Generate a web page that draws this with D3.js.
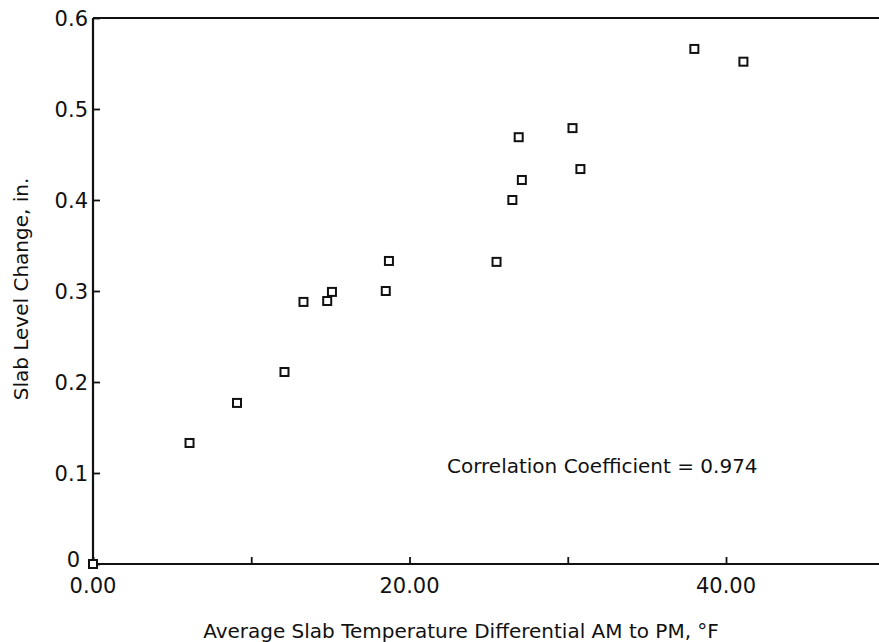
<!DOCTYPE html>
<html>
<head>
<meta charset="utf-8">
<script src="https://cdn.jsdelivr.net/npm/d3@7"></script>
<style>
  body { margin: 0; background: #fff; }
  svg text { font-family: "DejaVu Sans", sans-serif; fill: #111; }
</style>
</head>
<body>
<svg id="chart" width="879" height="642"></svg>
<script>
// temperature differential (F) vs slab level change (in.)
const tempDiff = [0.0, 6.1, 9.1, 12.1, 13.3, 14.8, 15.1, 18.5, 18.7, 25.5, 26.5, 27.1, 26.9, 30.3, 30.8, 38.0, 41.1];
const levelChange = [0.0, 0.133, 0.177, 0.211, 0.288, 0.289, 0.299, 0.300, 0.333, 0.332, 0.400, 0.422, 0.469, 0.479, 0.434, 0.566, 0.552];

const xTicks = [0, 10, 20, 30, 40, 50];
const xTickLabels = ["0.00", "", "20.00", "", "40.00", ""];
const yTicks = [0, 0.1, 0.2, 0.3, 0.4, 0.5, 0.6];
const yTickLabels = ["0", "0.1", "0.2", "0.3", "0.4", "0.5", "0.6"];

const svg = d3.select('#chart');

// plot frame runs off the right edge of the page, like the scan
let x = d3.scaleLinear().domain([0, 40]).range([93, 726]);
let y = d3.scaleLinear().domain([0, 0.6]).range([564, 18]);

// frame lines
svg.append("path")
    .attr("d", `M${x(0)},${y(0.6)} H${x(60)} M${x(0)},${y(0.6)} V${y(0)} H${x(60)}`)
    .attr("fill", "none")
    .attr("stroke", "#111")
    .attr("stroke-width", 2.2);

// x axis ticks point up into the plot
let xAxis = d3.axisTop(x)
    .tickValues(xTicks)
    .tickSize(7)
    .tickFormat("");
svg.append("g")
    .attr("transform", `translate(0,${y(0)})`)
    .call(xAxis)
    .call(g => g.select(".domain").remove())
    .call(g => g.selectAll("line").attr("stroke", "#111").attr("stroke-width", 1.8));

svg.selectAll(".xlab")
    .data(xTicks)
    .enter().append("text")
    .attr("class", "xlab")
    .attr("x", d => x(d))
    .attr("y", 593)
    .attr("text-anchor", "middle")
    .attr("font-size", 21)
    .text((d, i) => xTickLabels[i]);

// y axis ticks point right into the plot
let yAxis = d3.axisRight(y)
    .tickValues(yTicks)
    .tickSize(7)
    .tickFormat("");
svg.append("g")
    .attr("transform", `translate(${x(0)},0)`)
    .call(yAxis)
    .call(g => g.select(".domain").remove())
    .call(g => g.selectAll("line").attr("stroke", "#111").attr("stroke-width", 1.8));

// the "0" sits a little higher so it clears the "0.00" below it
svg.selectAll(".ylab")
    .data(yTicks)
    .enter().append("text")
    .attr("class", "ylab")
    .attr("x", (d, i) => i === 0 ? 80 : 88)
    .attr("y", (d, i) => i === 0 ? y(d) + 3 : y(d) + 7.5)
    .attr("text-anchor", "end")
    .attr("font-size", 21)
    .text((d, i) => yTickLabels[i]);

// data markers: open squares
svg.selectAll(".pt")
    .data(tempDiff)
    .enter().append("rect")
    .attr("class", "pt")
    .attr("x", d => x(d) - 4)
    .attr("y", (d, i) => y(levelChange[i]) - 4)
    .attr("width", 8)
    .attr("height", 8)
    .attr("fill", "#fff")
    .attr("stroke", "#111")
    .attr("stroke-width", 2);

// axis titles
svg.append("text")
    .attr("x", 461)
    .attr("y", 638)
    .attr("text-anchor", "middle")
    .attr("font-size", 20)
    .text("Average Slab Temperature Differential AM to PM, °F");

svg.append("text")
    .attr("transform", "translate(28,289) rotate(-90)")
    .attr("text-anchor", "middle")
    .attr("font-size", 20)
    .text("Slab Level Change, in.");

svg.append("text")
    .attr("x", 447)
    .attr("y", 473)
    .attr("font-size", 20)
    .text("Correlation Coefficient = 0.974");
</script>
</body>
</html>
